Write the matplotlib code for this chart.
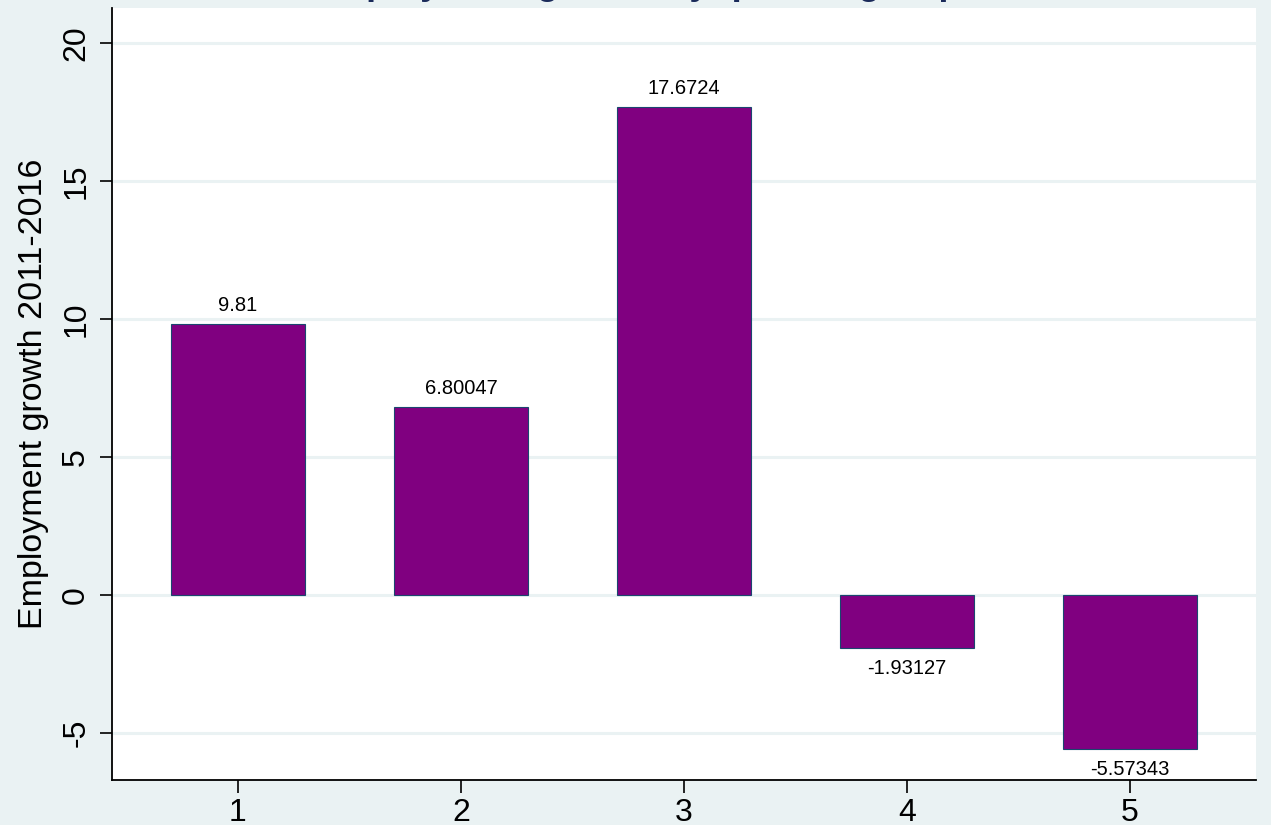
import matplotlib
matplotlib.use("Agg")
import matplotlib.pyplot as plt

# data
groups = [1, 2, 3, 4, 5]
growth = [9.81, 6.80047, 17.6724, -1.93127, -5.57343]
labels = ["9.81", "6.80047", "17.6724", "-1.93127", "-5.57343"]
yticks = [-5, 0, 5, 10, 15, 20]

bg = "#eaf2f3"
plt.rcParams['font.family'] = ['Liberation Sans', 'DejaVu Sans']

fig = plt.figure(figsize=(12.71, 8.25), dpi=100, facecolor=bg)
ax = fig.add_axes([112/1271, 45/825, 1144/1271, 772/825])
ax.set_facecolor("white")

ax.bar(groups, growth, width=0.6, color="#800080", edgecolor="#1a476f", linewidth=0.8, zorder=3)

for x, v, t in zip(groups, growth, labels):
    if v >= 0:
        ax.annotate(t, (x, v), xytext=(0, 7), textcoords="offset points",
                    ha="center", va="bottom", fontsize=14.5)
    else:
        ax.annotate(t, (x, v), xytext=(0, -8), textcoords="offset points",
                    ha="center", va="top", fontsize=14.5)

ax.set_xlim(0.435, 5.565)
ax.set_ylim(-6.70, 21.27)
ax.set_yticks(yticks)
ax.set_xticks(groups)
ax.set_yticklabels([str(t) for t in yticks], rotation=90, va="center", fontsize=23)
ax.set_xticklabels([str(g) for g in groups], fontsize=23)
ax.tick_params(axis="both", direction="out", length=9, width=1.2, color="black")
ax.tick_params(axis="y", pad=6)
ax.tick_params(axis="x", pad=4)
ax.grid(axis="y", color=bg, linewidth=2.2, zorder=0)
ax.set_axisbelow(True)

for s in ["top", "right"]:
    ax.spines[s].set_visible(False)
for s in ["left", "bottom"]:
    ax.spines[s].set_linewidth(1.3)
    ax.spines[s].set_color("black")

ax.set_ylabel("Employment growth 2011-2016", fontsize=24.5, labelpad=9)

# title sits mostly above the canvas, as in the cropped original
fig.text(0.5, 1.0 + 6/825, "Employment growth by quintile group", ha="center", va="baseline",
         fontsize=26, color="#1a2a5a", fontweight="bold")

fig.savefig("out.png", dpi=100, facecolor=bg)
